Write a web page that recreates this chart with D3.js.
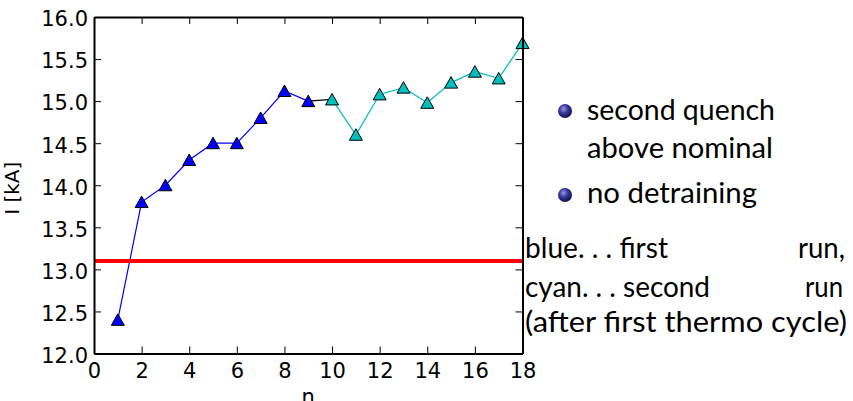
<!DOCTYPE html>
<html>
<head>
<meta charset="utf-8">
<script src="https://cdn.jsdelivr.net/npm/d3@7"></script>
<style>
  html, body { margin: 0; padding: 0; background: #fff; }
  svg { display: block; }
</style>
</head>
<body>
<div id="chart"></div>
<script>
// quench current per training quench n
const firstRunN = [1, 2, 3, 4, 5, 6, 7, 8, 9];
const firstRunI = [12.4, 13.8, 14.0, 14.3, 14.5, 14.5, 14.8, 15.12, 15.0];
const secondRunN = [10, 11, 12, 13, 14, 15, 16, 17, 18];
const secondRunI = [15.02, 14.6, 15.08, 15.16, 14.98, 15.22, 15.35, 15.27, 15.69];
const nominalI = 13.1;

const xTicks = [0, 2, 4, 6, 8, 10, 12, 14, 16, 18];
const yTicks = [12.0, 12.5, 13.0, 13.5, 14.0, 14.5, 15.0, 15.5, 16.0];

const bulletLines = ["second quench", "above nominal", "no detraining"];
const noteLines = ["blue. . . first", "run,", "cyan. . . second", "run", "(after first thermo cycle)"];

const W = 853, H = 401;
const plot = { left: 94, right: 522.5, top: 17, bottom: 353.5 };

const svg = d3.select("#chart").append("svg")
  .attr("width", W).attr("height", H)
  .attr("viewBox", `0 0 ${W} ${H}`);

const x = d3.scaleLinear().domain([0, 18]).range([plot.left, plot.right]);
const y = d3.scaleLinear().domain([12, 16]).range([plot.bottom, plot.top]);

const first = firstRunN.map((n, i) => ({ n, v: firstRunI[i] }));
const second = secondRunN.map((n, i) => ({ n, v: secondRunI[i] }));
const link = [first[first.length - 1], second[0]];

const line = d3.line().x(d => x(d.n)).y(d => y(d.v));

svg.append("path").datum(first).attr("d", line)
  .attr("fill", "none").attr("stroke", "#0000ff").attr("stroke-width", 1.2);
svg.append("path").datum(link).attr("d", line)
  .attr("fill", "none").attr("stroke", "#000").attr("stroke-width", 1.2);
svg.append("path").datum(second).attr("d", line)
  .attr("fill", "none").attr("stroke", "#00bfbf").attr("stroke-width", 1.2);

// nominal current
svg.append("line")
  .attr("x1", x(0)).attr("x2", x(18))
  .attr("y1", y(nominalI)).attr("y2", y(nominalI))
  .attr("stroke", "#ff0000").attr("stroke-width", 4);

// triangle markers (matplotlib '^')
const tri = "M0,-6L6.5,5.5L-6.5,5.5Z";
function markers(data, fill) {
  svg.append("g").selectAll("path").data(data).join("path")
    .attr("d", tri)
    .attr("transform", d => `translate(${x(d.n)},${y(d.v)})`)
    .attr("fill", fill).attr("stroke", "#000").attr("stroke-width", 1);
}
markers(first, "#0000ff");
markers(second, "#00bfbf");

// axes, ticks pointing inward on all four sides
const tickFont = "'DejaVu Sans', sans-serif";
const gx = svg.append("g").attr("transform", `translate(0,${plot.bottom})`)
  .call(d3.axisBottom(x).tickValues(xTicks).tickFormat(d3.format("d"))
    .tickSizeInner(-7).tickSizeOuter(0).tickPadding(9.5));
const gy = svg.append("g").attr("transform", `translate(${plot.left},0)`)
  .call(d3.axisLeft(y).tickValues(yTicks).tickFormat(d3.format(".1f"))
    .tickSizeInner(-7).tickSizeOuter(0).tickPadding(6));
const gt = svg.append("g").attr("transform", `translate(0,${plot.top})`)
  .call(d3.axisTop(x).tickValues(xTicks).tickFormat("")
    .tickSizeInner(-7).tickSizeOuter(0));
const gr = svg.append("g").attr("transform", `translate(${plot.right},0)`)
  .call(d3.axisRight(y).tickValues(yTicks).tickFormat("")
    .tickSizeInner(-7).tickSizeOuter(0));

[gx, gy, gt, gr].forEach(g => {
  g.select(".domain").attr("stroke", "#000").attr("stroke-width", 2);
  g.selectAll(".tick line").attr("stroke", "#000").attr("stroke-width", 1);
  g.selectAll("text").attr("font-family", tickFont).attr("font-size", 21).attr("fill", "#000");
});
gy.selectAll("text").attr("dy", "0.42em");

// axis labels (the "n" is clipped by the bottom edge, as in the original)
svg.append("text")
  .attr("x", (plot.left + plot.right) / 2).attr("y", 404)
  .attr("text-anchor", "middle")
  .attr("font-family", tickFont).attr("font-size", 21)
  .text("n");
svg.append("text")
  .attr("transform", `translate(19,${(plot.top + plot.bottom) / 2 + 3}) rotate(-90)`)
  .attr("text-anchor", "middle")
  .attr("font-family", tickFont).attr("font-size", 20)
  .text("I [kA]");

// beamer-style ball bullets
const defs = svg.append("defs");
const grad = defs.append("radialGradient").attr("id", "ball")
  .attr("cx", "40%").attr("cy", "35%").attr("r", "65%");
grad.append("stop").attr("offset", "0%").attr("stop-color", "#9a9ae6");
grad.append("stop").attr("offset", "45%").attr("stop-color", "#3a3aa0");
grad.append("stop").attr("offset", "100%").attr("stop-color", "#10104a");

const textFont = "Lato, 'Open Sans', sans-serif";
svg.append("circle").attr("cx", 565).attr("cy", 111).attr("r", 7).attr("fill", "url(#ball)");
svg.append("circle").attr("cx", 565).attr("cy", 195).attr("r", 7).attr("fill", "url(#ball)");

const rightText = [
  { t: bulletLines[0], x: 587, y: 120, w: 188, a: "start" },
  { t: bulletLines[1], x: 587, y: 158, w: 186, a: "start" },
  { t: bulletLines[2], x: 587, y: 203, w: 170, a: "start" },
  { t: noteLines[0], x: 525, y: 258, w: 143, a: "start" },
  { t: noteLines[1], x: 845, y: 258, w: 47, a: "end" },
  { t: noteLines[2], x: 525, y: 297, w: 185, a: "start" },
  { t: noteLines[3], x: 843, y: 297, w: 38, a: "end" },
  { t: noteLines[4], x: 525, y: 332, w: 322, a: "start" }
];
svg.append("g").selectAll("text").data(rightText).join("text")
  .attr("x", d => d.x).attr("y", d => d.y)
  .attr("text-anchor", d => d.a)
  .attr("textLength", d => d.w).attr("lengthAdjust", "spacingAndGlyphs")
  .attr("font-family", textFont).attr("font-size", 29).attr("fill", "#000")
  .text(d => d.t);
</script>
</body>
</html>
